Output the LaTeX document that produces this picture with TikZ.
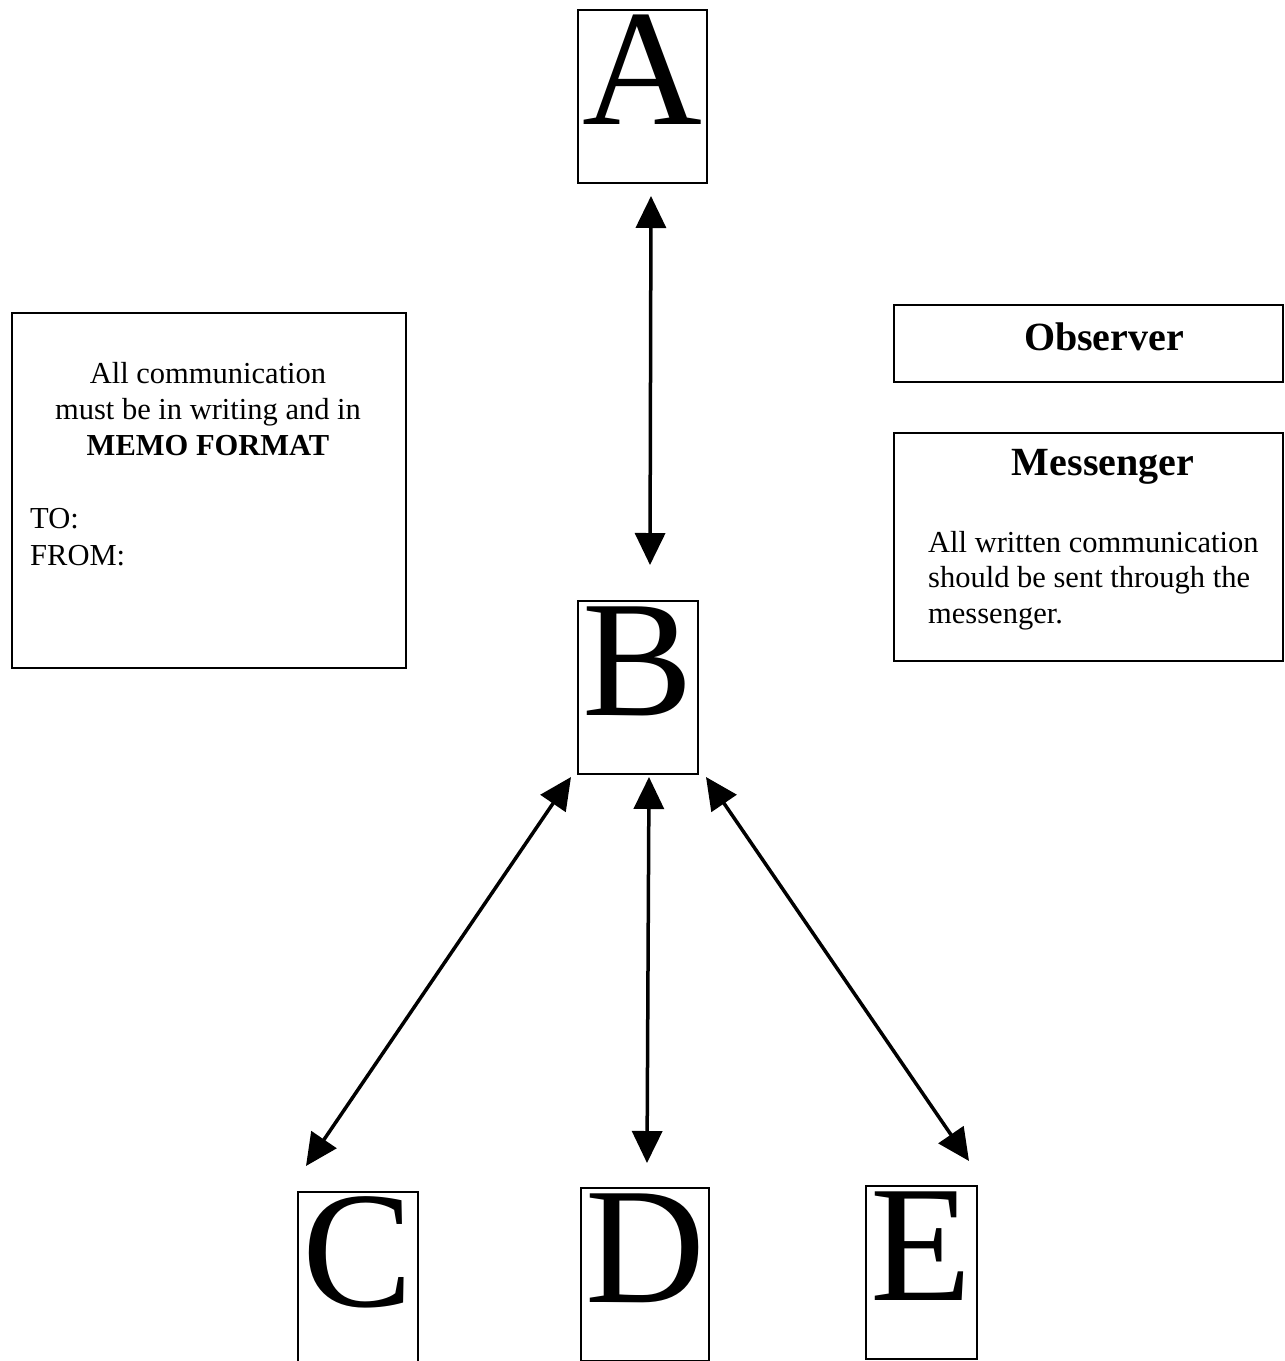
\documentclass[tikz,border=0pt]{standalone}
\usepackage{fontspec}
\setmainfont{Liberation Serif}
\usetikzlibrary{arrows.meta,calc}
\begin{document}
\begin{tikzpicture}[x=1pt,y=-1pt,
  letterbox/.style={draw, line width=2pt, inner sep=0pt, font=\fontsize{166}{180}\selectfont, text height=114pt, text depth=59pt, anchor=north west},
  panel/.style={draw, line width=2pt, inner sep=0pt, anchor=north west},
  arr/.style={line width=3.5pt, {Triangle[length=32pt,width=30pt]}-{Triangle[length=32pt,width=30pt]}},
  body/.style={font=\fontsize{30.5}{36}\selectfont, inner sep=0pt},
  bodyb/.style={font=\fontsize{30.5}{36}\selectfont\bfseries, inner sep=0pt},
  head/.style={font=\fontsize{40}{48}\selectfont\bfseries, inner sep=0pt}]
\useasboundingbox (0,0) rectangle (1285,1361);
% letter boxes
\node[letterbox, minimum width=129pt] (A) at (577,9) {A};
\node[letterbox, minimum width=120pt] (B) at (577,600) {B};
\node[letterbox, minimum width=120pt] (C) at (297,1191) {C};
\node[letterbox, minimum width=128pt] (D) at (580,1187) {D};
\node[letterbox, minimum width=111pt] (E) at (865,1185) {E};
% panels
\node[panel, minimum width=394pt, minimum height=355pt] (memo) at (11,312) {};
\node[panel, minimum width=389pt, minimum height=77pt] (obs) at (893,304) {};
\node[panel, minimum width=389pt, minimum height=228pt] (msg) at (893,432) {};
% texts
\node[body, anchor=base] (m1) at (208,383) {All communication};
\node[body, anchor=base] (m2) at (208,419) {must be in writing and in};
\node[bodyb, anchor=base] (m3) at (208,455) {MEMO FORMAT};
\node[body, anchor=base west] (m4) at (30,528) {TO:};
\node[body, anchor=base west] (m5) at (30,565) {FROM:};
\node[head, anchor=base] (obst) at (1104,350) {Observer};
\node[head, anchor=base] (msgt) at (1103,475) {Messenger};
\node[body, anchor=base west] (g1) at (928,552) {All written communication};
\node[body, anchor=base west] (g2) at (928,587) {should be sent through the};
\node[body, anchor=base west] (g3) at (928,623) {messenger.};
% arrows
\draw[arr] ($(A.south)+(8.5,12)$) -- ($(B.north)+(12,-35)$);
\draw[arr] ($(B.south west)+(-6,2)$) -- ($(C.north)+(-52,-25)$);
\draw[arr] ($(B.south)+(11,2)$) -- ($(D.north)+(2,-24)$);
\draw[arr] ($(B.south east)+(7,2)$) -- ($(E.north east)+(-9,-24)$);
\end{tikzpicture}
\end{document}
